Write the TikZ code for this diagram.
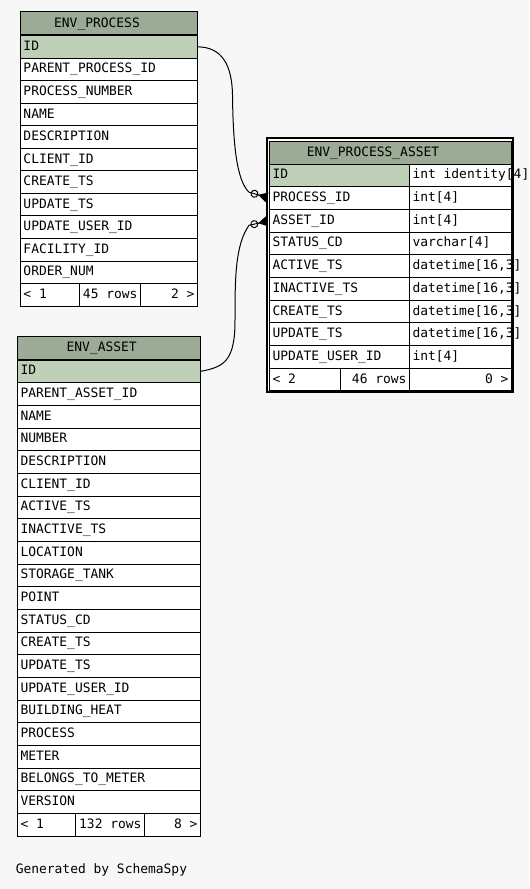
\documentclass[tikz,border=0pt]{standalone}
\usepackage{fontspec}
\usepackage{tikz}
\usetikzlibrary{arrows.meta}
\newfontfamily\schemafont{DejaVu Sans Mono}
\newcommand{\tabfont}{\schemafont\fontsize{9.7pt}{12pt}\selectfont}
\definecolor{bgcol}{HTML}{F7F7F7}
\definecolor{headcol}{HTML}{9BAB96}
\definecolor{keycol}{HTML}{BED1B8}

\begin{document}
\begin{tikzpicture}[x=0.75pt, y=-0.75pt,
        tbl/.style={draw, line width=0.75pt, anchor=north west, inner xsep=2.25pt,
            inner ysep=0pt, outer sep=0pt, text height=7.2pt, text depth=1.9pt, font=\tabfont},
        row/.style={tbl, fill=white, minimum height=17pt, text width=#1, align=left},
        keyrow/.style={row=#1, fill=keycol},
        rrow/.style={row=#1, align=right},
        head/.style={tbl, fill=headcol, minimum width=#1, minimum height=17.6pt},
        title/.style={inner sep=0pt, text height=7.2pt, text depth=1.9pt, font=\tabfont},
        fk/.style={line width=0.75pt, shorten >=1.9pt,
            -{Circle[open, length=6pt, width=6pt] Triangle[reversed, length=6.8pt, width=7.5pt]}}]
    \useasboundingbox (0,0) rectangle (529,889);
    \fill [bgcol] (0,0) rectangle (529,889);

    % ENV_PROCESS
        \node [head=132.75pt] (ph) at (20.5,11.5) {};
        \node [title] (pht) at (97,23.5) {ENV\_PROCESS};
        \node [keyrow=128.25pt] (p1) at (20.5,35.5) {ID};
        \node [row=128.25pt] (p2) at (20.5,58.05) {PARENT\_PROCESS\_ID};
        \node [row=128.25pt] (p3) at (20.5,80.6) {PROCESS\_NUMBER};
        \node [row=128.25pt] (p4) at (20.5,103.15) {NAME};
        \node [row=128.25pt] (p5) at (20.5,125.7) {DESCRIPTION};
        \node [row=128.25pt] (p6) at (20.5,148.25) {CLIENT\_ID};
        \node [row=128.25pt] (p7) at (20.5,170.8) {CREATE\_TS};
        \node [row=128.25pt] (p8) at (20.5,193.35) {UPDATE\_TS};
        \node [row=128.25pt] (p9) at (20.5,215.9) {UPDATE\_USER\_ID};
        \node [row=128.25pt] (p10) at (20.5,238.45) {FACILITY\_ID};
        \node [row=128.25pt] (p11) at (20.5,261) {ORDER\_NUM};
        \node [row=39.75pt] (pf1) at (20.5,283.55) {<\hspace{0.602em}1};
        \node [rrow=41.25pt] (pf2) at (79.5,283.55) {45\hspace{0.602em}rows};
        \node [rrow=38.25pt] (pf3) at (140.5,283.55) {2\hspace{0.602em}>};

    % ENV_PROCESS_ASSET
        \fill [white] (267.1,138.3) rectangle (513.2,392.3);
        \node [head=181.5pt] (pah) at (269.5,141) {};
        \node [title] (paht) at (373,152.5) {ENV\_PROCESS\_ASSET};
        \node [keyrow=100.5pt] (pa1) at (269.5,164) {ID};
        \node [row=72pt] (pt1) at (409.5,164) {\mbox{int\hspace{0.602em}identity[4]}};
        \node [row=100.5pt] (pa2) at (269.5,186.7) {PROCESS\_ID};
        \node [row=72pt] (pt2) at (409.5,186.7) {int[4]};
        \node [row=100.5pt] (pa3) at (269.5,209.4) {ASSET\_ID};
        \node [row=72pt] (pt3) at (409.5,209.4) {int[4]};
        \node [row=100.5pt] (pa4) at (269.5,232.1) {STATUS\_CD};
        \node [row=72pt] (pt4) at (409.5,232.1) {varchar[4]};
        \node [row=100.5pt] (pa5) at (269.5,254.8) {ACTIVE\_TS};
        \node [row=72pt] (pt5) at (409.5,254.8) {datetime[16,3]};
        \node [row=100.5pt] (pa6) at (269.5,277.5) {INACTIVE\_TS};
        \node [row=72pt] (pt6) at (409.5,277.5) {datetime[16,3]};
        \node [row=100.5pt] (pa7) at (269.5,300.2) {CREATE\_TS};
        \node [row=72pt] (pt7) at (409.5,300.2) {datetime[16,3]};
        \node [row=100.5pt] (pa8) at (269.5,322.9) {UPDATE\_TS};
        \node [row=72pt] (pt8) at (409.5,322.9) {datetime[16,3]};
        \node [row=100.5pt] (pa9) at (269.5,345.6) {UPDATE\_USER\_ID};
        \node [row=72pt] (pt9) at (409.5,345.6) {int[4]};
        \node [row=48.75pt] (paf1) at (269.5,368.3) {<\hspace{0.602em}2};
        \node [rrow=47.25pt] (paf2) at (340.5,368.3) {46\hspace{0.602em}rows};
        \node [rrow=72pt] (paf3) at (409.5,368.3) {0\hspace{0.602em}>};
        \draw [line width=1.6pt] (267.1,138.3) rectangle (513.2,392.3);

    % ENV_ASSET
        \node [head=137.25pt] (ah) at (17.5,336.5) {};
        \node [title] (aht) at (101.7,348.3) {ENV\_ASSET};
        \node [keyrow=132.75pt] (a1) at (17.5,360) {ID};
        \node [row=132.75pt] (a2) at (17.5,382.67) {PARENT\_ASSET\_ID};
        \node [row=132.75pt] (a3) at (17.5,405.34) {NAME};
        \node [row=132.75pt] (a4) at (17.5,428.01) {NUMBER};
        \node [row=132.75pt] (a5) at (17.5,450.68) {DESCRIPTION};
        \node [row=132.75pt] (a6) at (17.5,473.35) {CLIENT\_ID};
        \node [row=132.75pt] (a7) at (17.5,496.02) {ACTIVE\_TS};
        \node [row=132.75pt] (a8) at (17.5,518.69) {INACTIVE\_TS};
        \node [row=132.75pt] (a9) at (17.5,541.36) {LOCATION};
        \node [row=132.75pt] (a10) at (17.5,564.03) {STORAGE\_TANK};
        \node [row=132.75pt] (a11) at (17.5,586.7) {POINT};
        \node [row=132.75pt] (a12) at (17.5,609.37) {STATUS\_CD};
        \node [row=132.75pt] (a13) at (17.5,632.04) {CREATE\_TS};
        \node [row=132.75pt] (a14) at (17.5,654.71) {UPDATE\_TS};
        \node [row=132.75pt] (a15) at (17.5,677.38) {UPDATE\_USER\_ID};
        \node [row=132.75pt] (a16) at (17.5,700.05) {BUILDING\_HEAT};
        \node [row=132.75pt] (a17) at (17.5,722.72) {PROCESS};
        \node [row=132.75pt] (a18) at (17.5,745.39) {METER};
        \node [row=132.75pt] (a19) at (17.5,768.06) {BELONGS\_TO\_METER};
        \node [row=132.75pt] (a20) at (17.5,790.73) {VERSION};
        \node [row=39pt] (af1) at (17.5,813.4) {<\hspace{0.602em}1};
        \node [rrow=47.25pt] (af2) at (75.5,813.4) {132\hspace{0.602em}rows};
        \node [rrow=37.5pt] (af3) at (144.5,813.4) {8\hspace{0.602em}>};

    % foreign keys
        \coordinate (fk1) at (249,192.2);
        \coordinate (fk2) at (249,225.3);
        \draw [fk] (p1.east) .. controls (222,47) and (232,65) .. (232.5,95)
            .. controls (233,140) and (236,180) .. (fk1) -- (pa2.west);
        \draw [fk] (a1.east) .. controls (225,367) and (235,360) .. (235,320)
            .. controls (235,280) and (235,245) .. (fk2) -- (pa3.west);

        \node [title, anchor=west] (gen) at (15.5,870) {Generated\hspace{0.602em}by\hspace{0.602em}SchemaSpy};
    \end{tikzpicture}
\end{document}
